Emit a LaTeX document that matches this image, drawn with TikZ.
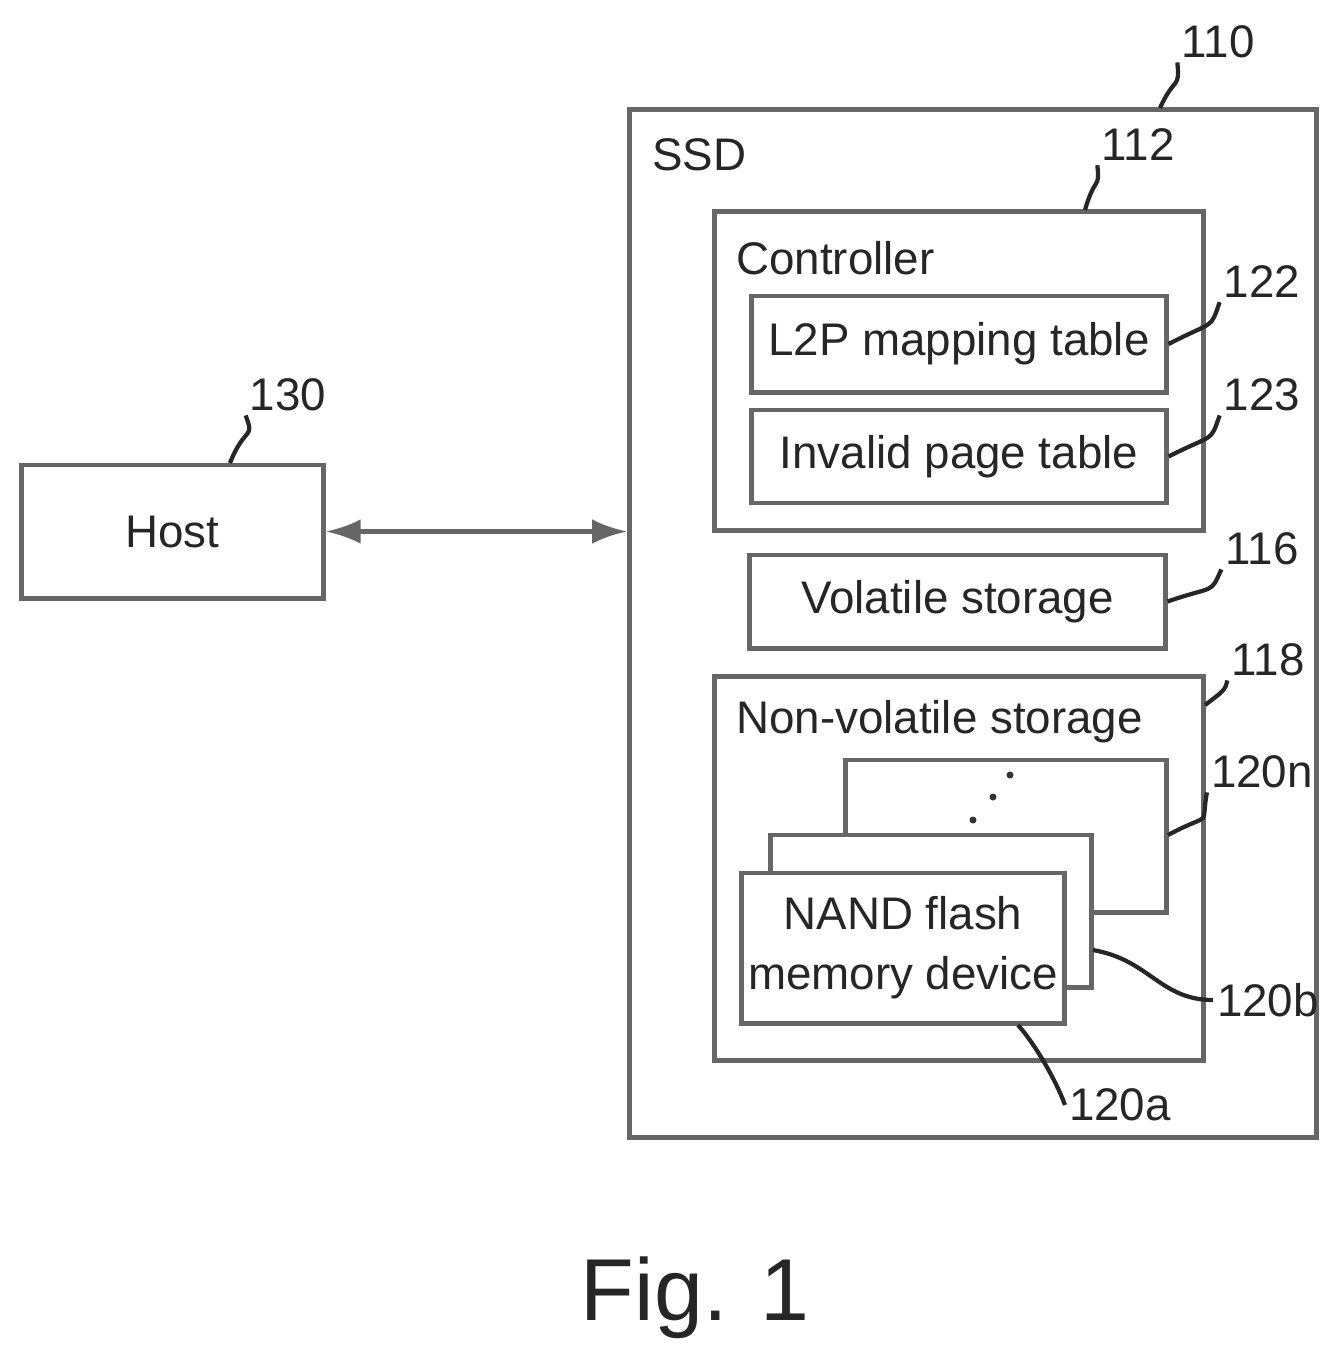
\documentclass[tikz,border=0pt]{standalone}
\usepackage{fontspec}
\setmainfont{Liberation Sans}
\usetikzlibrary{arrows.meta}

\tikzset{
    box/.style={draw=gray!80!black, line width=1.4pt, fill=white, inner sep=0pt,
                font=\fontsize{13}{17}\selectfont, text=black!85, align=center},
    lead/.style={draw=black!85, line width=1.2pt},
    num/.style={font=\fontsize{13}{15}\selectfont, text=black!85, inner sep=1pt}
}

\begin{document}
\begin{tikzpicture}[x=0.01cm, y=-0.01cm]

    \useasboundingbox (0,0) rectangle (1339,1372);

    % outer boxes
    \node[box, minimum width=3.01cm, minimum height=1.33cm] (host) at (172.5,531.5) {Host};
    \node[box, minimum width=6.86cm, minimum height=10.27cm] (ssd) at (973,623.5) {};
    \node[num, anchor=west] at (648,155) {SSD};

    % controller
    \node[box, minimum width=4.88cm, minimum height=3.18cm] (ctrl) at (959,371) {};
    \node[num, anchor=west] at (732,258) {Controller};
    \node[box, minimum width=4.14cm, minimum height=0.96cm] (l2p) at (959,344) {L2P mapping table};
    \node[box, minimum width=4.14cm, minimum height=0.93cm] (inv) at (959,456.5) {Invalid page table};

    \node[box, minimum width=4.15cm, minimum height=0.93cm] (vol) at (957.5,601.5) {Volatile storage};

    % non-volatile storage
    \node[box, minimum width=4.88cm, minimum height=3.83cm] (nvs) at (959,868.5) {};
    \node[num, anchor=west] at (732,722) {Non-volatile storage};
    \node[box, minimum width=3.20cm, minimum height=1.52cm] (nandn) at (1006,836) {};
    \node[box, minimum width=3.20cm, minimum height=1.52cm] (nandb) at (931,911) {};
    \node[box, minimum width=3.22cm, minimum height=1.50cm] (nanda) at (903,948) {NAND flash\\memory device};
    \foreach \p in {(1010,775),(993,797),(973,820)}
        \fill[black!80] \p circle (3.5);

    % link
    \draw[line width=1.4pt, gray!80!black, {Latex[length=10pt,width=7pt]}-{Latex[length=10pt,width=7pt]}]
        (host.east) -- (host.east -| ssd.west);

    % reference numerals
    \node[num] (n130) at (288,395) {130};
    \node[num] (n110) at (1218,42) {110};
    \node[num] (n112) at (1138,145) {112};
    \node[num] (n122) at (1262,282) {122};
    \node[num] (n123) at (1262,395) {123};
    \node[num] (n116) at (1262,549) {116};
    \node[num] (n118) at (1268,660) {118};
    \node[num] (n120n) at (1262,772) {120n};
    \node[num] (n120b) at (1268,1000) {120b};
    \node[num] (n120a) at (1120,1105) {120a};

    \draw[lead] (230,463) .. controls (245,425) and (255,440) .. (n130.south west);
    \draw[lead] (1160,108) .. controls (1175,75) and (1180,90) .. (n110.south west);
    \draw[lead] (1085,210) .. controls (1095,175) and (1100,190) .. (n112.south west);
    \draw[lead] (l2p.east) .. controls (1215,320) and (1210,330) .. (n122.south west);
    \draw[lead] (inv.east) .. controls (1215,433) and (1210,443) .. (n123.south west);
    \draw[lead] (vol.east) .. controls (1215,585) and (1210,595) .. (n116.south west);
    \draw[lead] (1205,705) .. controls (1225,690) and (1225,690) .. (n118.south west);
    \draw[lead] (1168,835) .. controls (1215,810) and (1200,830) .. (n120n.south west);
    \draw[lead] (1093,950) .. controls (1150,960) and (1160,1000) .. (n120b.west);
    \draw[lead] (1018,1025) .. controls (1040,1050) and (1060,1090) .. (n120a.west);

    % caption
    \node[font=\fontsize{25}{28}\selectfont, text=black!85] (fig) at (695,1298) {Fig. 1};

\end{tikzpicture}
\end{document}
